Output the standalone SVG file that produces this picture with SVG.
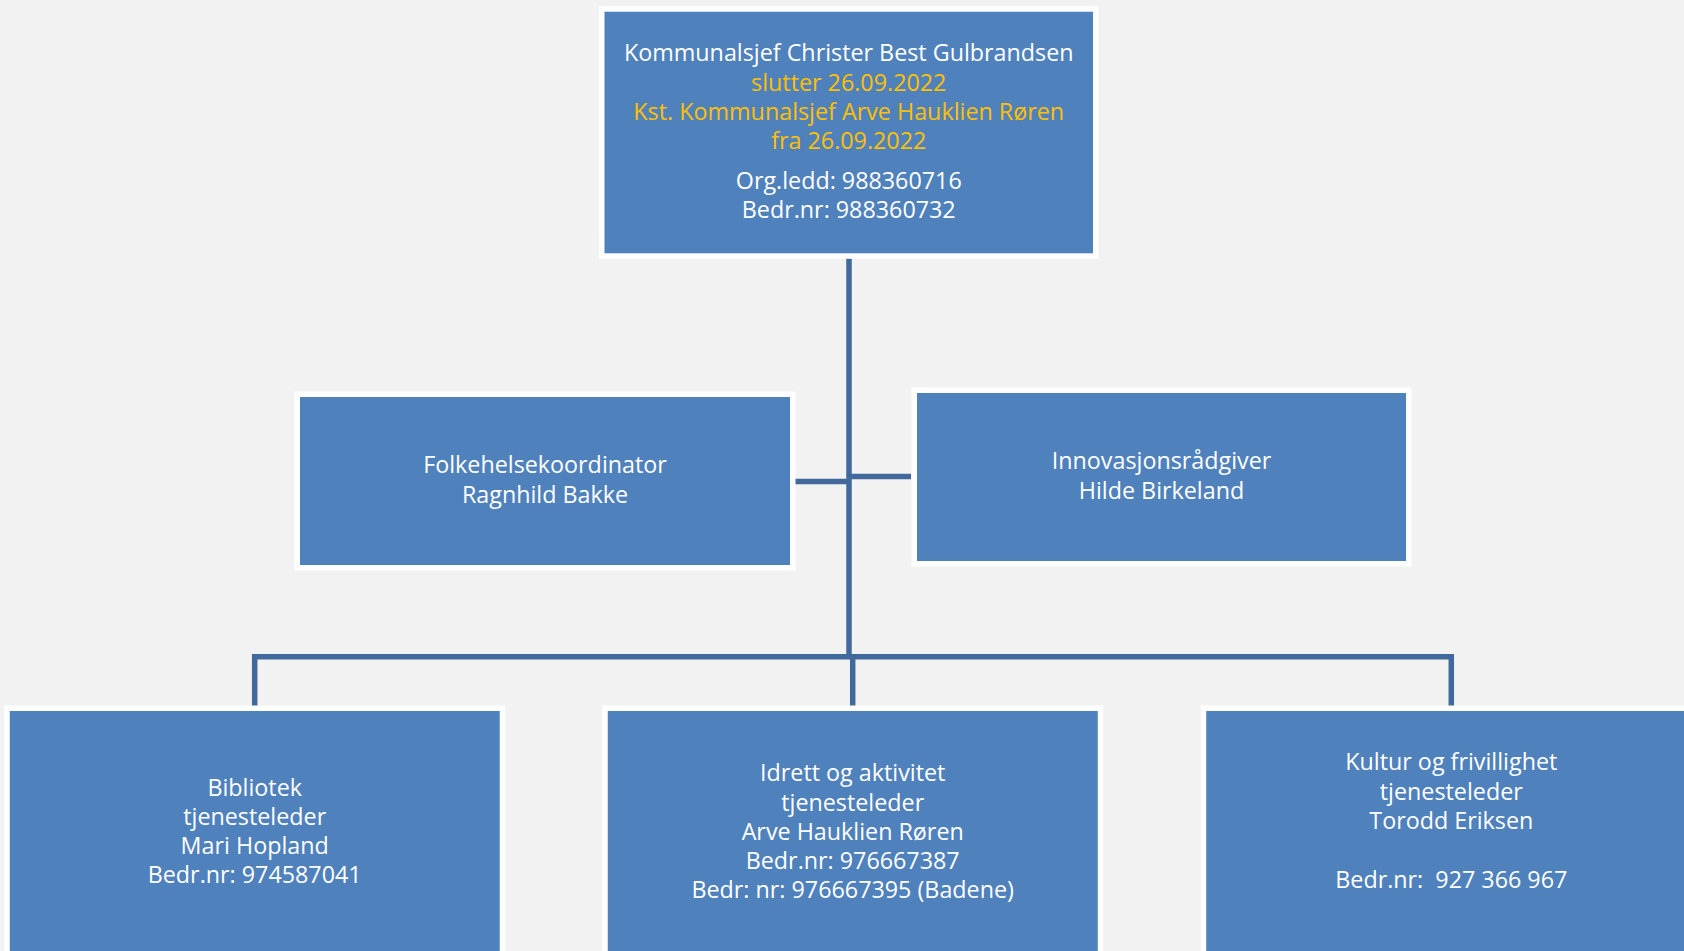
<svg xmlns="http://www.w3.org/2000/svg" width="1684" height="951" viewBox="0 0 1684 951">
<style>
.box{fill:#4F81BD;stroke:#FFFFFF;stroke-width:5.5}
.t{font-family:"Open Sans","Liberation Sans",sans-serif;font-size:23.3px;fill:#FFFFFF;text-anchor:middle}
.y{fill:#FFC000}
.c{fill:none;stroke:#41699B;stroke-width:5.5;stroke-linejoin:miter;stroke-linecap:butt}
</style>
<rect x="0" y="0" width="1684" height="951" fill="#F2F2F2"/>
<g id="connectors">
<path class="c" d="M849,258 V656.8"/>
<path class="c" d="M254.7,706 V656.8 H1451.3 V706"/>
<path class="c" d="M852.7,656.8 V706"/>
<path class="c" d="M795,481.5 H849"/>
<path class="c" d="M849,476.5 H911"/>
</g>
<g id="kommunalsjef">
<rect class="box" x="601.75" y="8.95" width="494" height="247.1"/>
<text class="t" x="848.75" y="61">Kommunalsjef Christer Best Gulbrandsen</text>
<text class="t y" x="848.75" y="90.5">slutter 26.09.2022</text>
<text class="t y" x="848.75" y="119.5">Kst. Kommunalsjef Arve Hauklien Røren</text>
<text class="t y" x="848.75" y="148.5">fra 26.09.2022</text>
<text class="t" x="848.75" y="189">Org.ledd: 988360716</text>
<text class="t" x="848.75" y="218">Bedr.nr: 988360732</text>
</g>
<g id="folkehelse">
<rect class="box" x="297.25" y="394.25" width="495.5" height="173.5"/>
<text class="t" x="545" y="473">Folkehelsekoordinator</text>
<text class="t" x="545" y="502.5">Ragnhild Bakke</text>
</g>
<g id="innovasjon">
<rect class="box" x="914.25" y="390.25" width="494.5" height="173.5"/>
<text class="t" x="1161.5" y="469">Innovasjonsrådgiver</text>
<text class="t" x="1161.5" y="498.5">Hilde Birkeland</text>
</g>
<g id="bibliotek">
<rect class="box" x="7" y="708.25" width="495.5" height="300"/>
<text class="t" x="254.7" y="796">Bibliotek</text>
<text class="t" x="254.7" y="825">tjenesteleder</text>
<text class="t" x="254.7" y="854">Mari Hopland</text>
<text class="t" x="254.7" y="883">Bedr.nr: 974587041</text>
</g>
<g id="idrett">
<rect class="box" x="605" y="708.25" width="495.5" height="300"/>
<text class="t" x="852.7" y="781">Idrett og aktivitet</text>
<text class="t" x="852.7" y="811">tjenesteleder</text>
<text class="t" x="852.7" y="840">Arve Hauklien Røren</text>
<text class="t" x="852.7" y="869">Bedr.nr: 976667387</text>
<text class="t" x="852.7" y="898">Bedr: nr: 976667395 (Badene)</text>
</g>
<g id="kultur">
<rect class="box" x="1203.5" y="708.25" width="495.5" height="300"/>
<text class="t" x="1451.3" y="770">Kultur og frivillighet</text>
<text class="t" x="1451.3" y="800">tjenesteleder</text>
<text class="t" x="1451.3" y="829">Torodd Eriksen</text>
<text class="t" x="1451.3" y="888" xml:space="preserve">Bedr.nr:  927 366 967</text>
</g>
</svg>
